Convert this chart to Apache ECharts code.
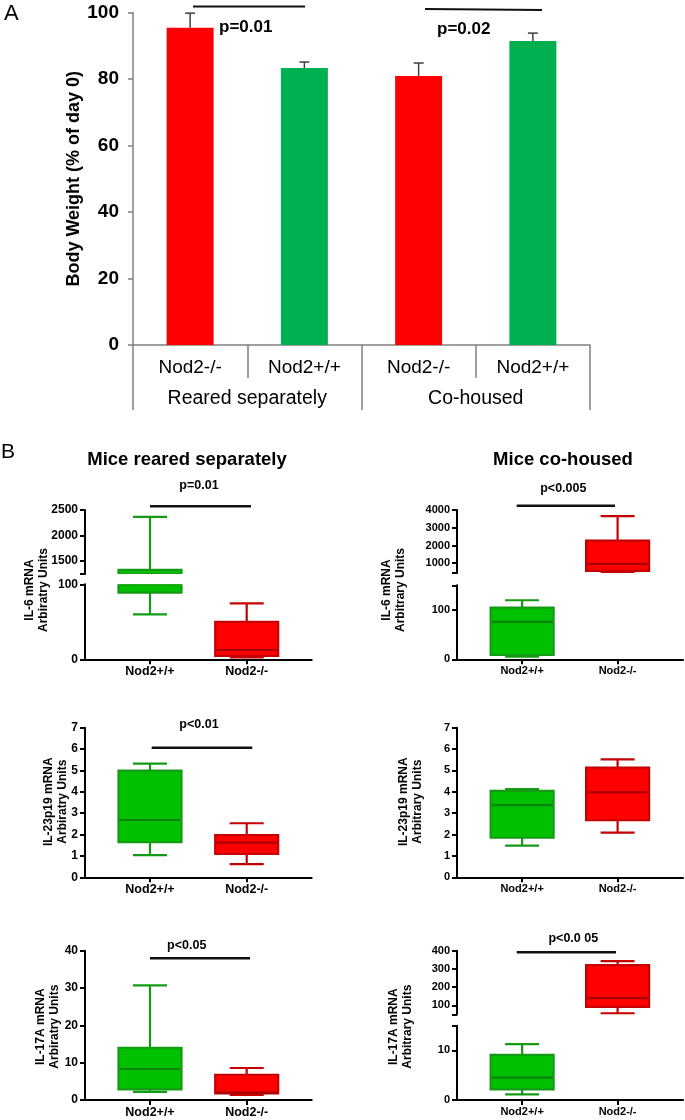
<!DOCTYPE html>
<html>
<head>
<meta charset="utf-8">
<script src="https://cdn.jsdelivr.net/npm/echarts@6/dist/echarts.min.js"></script>
<style>
html,body{margin:0;padding:0;background:#fff;}
#chart{width:685px;height:1120px;}
</style>
</head>
<body>
<div id="chart"></div>
<script>
// ---------------- Panel A data ----------------
const groupsA = ['Reared separately', 'Co-housed'];
const categoriesA = ['Nod2-/-', 'Nod2+/+', 'Nod2-/-', 'Nod2+/+'];
const bodyWeightMean = [95.4, 83.3, 80.9, 91.4];
const bodyWeightErrTop = [99.8, 85.1, 84.8, 93.8];
const barColorsA = ['#FF0000', '#00B050', '#FF0000', '#00B050'];
const pLabelsA = ['p=0.01', 'p=0.02'];

// ---------------- Panel B data ----------------
const genotypes = ['Nod2+/+', 'Nod2-/-'];
// each box: [min, Q1, median, Q3, max]
const il6SepWT = [60, 89, 500, 1320, 2366];
const il6SepKO = [2.7, 4.4, 12.4, 50, 74.7];
const il6CoWT = [5.3, 8.7, 76, 104.7, 119.7];
const il6CoKO = [470, 568, 960, 2270, 3660];
const il23SepWT = [1.04, 1.64, 2.68, 4.99, 5.32];
const il23SepKO = [0.62, 1.09, 1.62, 1.98, 2.53];
const il23CoWT = [1.48, 1.85, 3.38, 4.04, 4.13];
const il23CoKO = [2.09, 2.67, 3.98, 5.13, 5.52];
const il17SepWT = [2.2, 2.86, 8.3, 14.0, 30.7];
const il17SepKO = [1.34, 1.78, 2.0, 6.77, 8.57];
const il17CoWT = [1.15, 2.15, 4.5, 9.1, 11.3];
const il17CoKO = [56, 91, 139, 321, 343];

const il6SepUpperTicks = [1500, 2000, 2500];
const il6SepLowerTicks = [0, 100];
const il6CoUpperTicks = [1000, 2000, 3000, 4000];
const il6CoLowerTicks = [0, 100];
const il23Ticks = [0, 1, 2, 3, 4, 5, 6, 7];
const il17SepTicks = [0, 10, 20, 30, 40];
const il17CoUpperTicks = [100, 200, 300, 400];
const il17CoLowerTicks = [0, 10];

const pLabelsB = ['p=0.01', 'p<0.005', 'p<0.01', 'p<0.05', 'p<0.0 05'];

// ---------------- styling / layout ----------------
const FONT = "'Liberation Sans', Arial, Helvetica, sans-serif";
const GREEN_FILL = '#00C000', GREEN_STROKE = '#159a15', GREEN_MED = '#0b840b';
const RED_FILL = '#FF0000', RED_STROKE = '#c40000', RED_MED = '#a80000';

const COL_L = {left: 85, width: 226.7, xmin: 0.328, xmax: 2.672, tickFont: 12, xFont: 12.5};
const COL_R = {left: 457, width: 226, xmin: 0.318, xmax: 2.685, tickFont: 11, xFont: 11};

const plots = [
  {col: COL_L, data: [il6SepWT, il6SepKO], segs: [
    {top: 510, bottom: 574, min: 1240, max: 2500, labels: il6SepUpperTicks, ticks: [1240].concat(il6SepUpperTicks)},
    {top: 584.3, bottom: 659.3, min: 0, max: 100, labels: il6SepLowerTicks, ticks: il6SepLowerTicks}]},
  {col: COL_R, data: [il6CoWT, il6CoKO], segs: [
    {top: 510, bottom: 573, min: 450, max: 4000, labels: il6CoUpperTicks, ticks: [450].concat(il6CoUpperTicks)},
    {top: 585.3, bottom: 659.3, min: 0, max: 150, labels: il6CoLowerTicks, ticks: il6CoLowerTicks.concat([150])}]},
  {col: COL_L, data: [il23SepWT, il23SepKO], segs: [
    {top: 727.7, bottom: 877.3, min: 0, max: 7, labels: il23Ticks, ticks: il23Ticks}]},
  {col: COL_R, data: [il23CoWT, il23CoKO], segs: [
    {top: 727.7, bottom: 877.3, min: 0, max: 7, labels: il23Ticks, ticks: il23Ticks}]},
  {col: COL_L, data: [il17SepWT, il17SepKO], segs: [
    {top: 950.7, bottom: 1100, min: 0, max: 40, labels: il17SepTicks, ticks: il17SepTicks}]},
  {col: COL_R, data: [il17CoWT, il17CoKO], segs: [
    {top: 950.7, bottom: 1014.4, min: 50, max: 400, labels: il17CoUpperTicks, ticks: [50].concat(il17CoUpperTicks)},
    {top: 1025.7, bottom: 1100, min: 0, max: 15, labels: il17CoLowerTicks, ticks: il17CoLowerTicks.concat([15])}]}
];

function makeBoxItem(segMin, segMax) {
  return function (params, api) {
    const x = api.value(0);
    const v = [1, 2, 3, 4, 5].map(i => api.value(i));
    const cx = api.coord([x, segMin])[0];
    const top = api.coord([x, segMax])[1];
    const bot = api.coord([x, segMin])[1];
    const py = v.map(val => api.coord([x, val])[1]);
    const isWT = Math.round(x) === 1;
    const fill = isWT ? GREEN_FILL : RED_FILL;
    const stroke = isWT ? GREEN_STROKE : RED_STROKE;
    const med = isWT ? GREEN_MED : RED_MED;
    const bw = 63, cw = 34;
    const clampY = y => Math.min(bot, Math.max(top, y));
    const children = [];
    const addV = (ya, yb) => {
      const a = clampY(ya), b = clampY(yb);
      if (Math.abs(a - b) > 0.1) children.push({type: 'line', shape: {x1: cx, y1: a, x2: cx, y2: b}, style: {stroke: stroke, lineWidth: 2.2}});
    };
    const addH = (y, w, c) => {
      if (y >= top - 0.5 && y <= bot + 0.5) children.push({type: 'line', shape: {x1: cx - w / 2, y1: y, x2: cx + w / 2, y2: y}, style: {stroke: c, lineWidth: 2.2}});
    };
    addV(py[0], py[1]);
    addV(py[3], py[4]);
    const r1 = clampY(py[3]), r2 = clampY(py[1]);
    if (r2 - r1 > 0.1) children.push({type: 'rect', shape: {x: cx - bw / 2, y: r1, width: bw, height: r2 - r1}, style: {fill: fill, stroke: stroke, lineWidth: 2.2}});
    addH(py[2], bw - 2, med);
    addH(py[0], cw, stroke);
    addH(py[4], cw, stroke);
    return {type: 'group', children: children};
  };
}

function errItem(params, api) {
  const i = api.value(0);
  const p0 = api.coord([i, api.value(1)]);
  const p1 = api.coord([i, api.value(2)]);
  return {type: 'group', children: [
    {type: 'line', shape: {x1: p0[0], y1: p0[1], x2: p1[0], y2: p1[1]}, style: {stroke: '#404040', lineWidth: 1.5}},
    {type: 'line', shape: {x1: p1[0] - 5, y1: p1[1], x2: p1[0] + 5, y2: p1[1]}, style: {stroke: '#404040', lineWidth: 1.5}}
  ]};
}

const grids = [], xAxes = [], yAxes = [], series = [];

// Panel A
grids.push({left: 133, top: 12.5, width: 457, height: 332.5});
xAxes.push({
  type: 'category', gridIndex: 0, data: categoriesA, position: 'bottom',
  axisLine: {lineStyle: {color: '#808080', width: 1.5}},
  axisTick: {show: true, interval: 0, length: 33, lineStyle: {color: '#808080', width: 1.5}},
  axisLabel: {interval: 0, margin: 13, fontSize: 19, color: '#000', fontFamily: FONT}
});
xAxes.push({
  type: 'category', gridIndex: 0, data: groupsA, position: 'bottom',
  axisLine: {show: false},
  axisTick: {show: true, interval: 0, length: 65, lineStyle: {color: '#808080', width: 1.5}},
  axisLabel: {interval: 0, margin: 44, fontSize: 19.5, color: '#000', fontFamily: FONT}
});
yAxes.push({
  type: 'value', gridIndex: 0, min: 0, max: 100, interval: 20,
  name: 'Body Weight (% of day 0)', nameLocation: 'middle', nameGap: 50, nameMoveOverlap: false,
  nameTextStyle: {fontSize: 18, fontWeight: 'bold', color: '#000', fontFamily: FONT},
  axisLine: {show: true, lineStyle: {color: '#808080', width: 1.5}},
  axisTick: {show: true, length: 5, lineStyle: {color: '#808080', width: 1.5}},
  axisLabel: {margin: 14, fontSize: 19, fontWeight: 'bold', color: '#000', fontFamily: FONT},
  splitLine: {show: false}
});
series.push({
  type: 'bar', xAxisIndex: 0, yAxisIndex: 0, barWidth: 47,
  data: bodyWeightMean.map((v, i) => ({value: v, itemStyle: {color: barColorsA[i]}}))
});
series.push({
  type: 'custom', xAxisIndex: 0, yAxisIndex: 0, renderItem: errItem,
  encode: {x: 0, y: [1, 2]},
  data: bodyWeightMean.map((v, i) => [i, v, bodyWeightErrTop[i]]), z: 3
});

// Panel B
plots.forEach(p => {
  p.segs.forEach((s, si) => {
    const gi = grids.length;
    const xi = xAxes.length;
    const yi = yAxes.length;
    const isLast = si === p.segs.length - 1;
    grids.push({left: p.col.left, top: s.top, width: p.col.width, height: s.bottom - s.top});
    xAxes.push({
      type: 'value', gridIndex: gi, min: p.col.xmin, max: p.col.xmax,
      axisLine: {show: isLast, onZero: false, lineStyle: {color: '#000', width: 2}},
      axisTick: {show: isLast, customValues: [1, 2], length: 5, lineStyle: {color: '#000', width: 2}},
      axisLabel: {show: isLast, customValues: [1, 2], formatter: v => genotypes[Math.round(v) - 1], margin: 6,
        fontSize: p.col.xFont, fontWeight: 'bold', color: '#000', fontFamily: FONT},
      splitLine: {show: false}
    });
    yAxes.push({
      type: 'value', gridIndex: gi, min: s.min, max: s.max,
      axisLine: {show: true, lineStyle: {color: '#000', width: 2}},
      axisTick: {show: true, customValues: s.ticks, length: 5, lineStyle: {color: '#000', width: 2}},
      axisLabel: {customValues: s.labels, formatter: v => String(v), margin: 7, fontSize: p.col.tickFont,
        fontWeight: 'bold', color: '#000', fontFamily: FONT},
      splitLine: {show: false}
    });
    series.push({
      type: 'custom', xAxisIndex: xi, yAxisIndex: yi, renderItem: makeBoxItem(s.min, s.max), clip: true,
      encode: {x: 0, y: [1, 2, 3, 4, 5]},
      data: p.data.map((d, k) => [k + 1].concat(d))
    });
  });
});

// annotations
const txt = (text, x, y, size, bold, align, rot) => ({
  type: 'text', x: x, y: y, rotation: rot || 0,
  style: {text: text, fontSize: size, fontWeight: bold ? 'bold' : 'normal', fill: '#000', fontFamily: FONT,
    textAlign: align || 'center', textVerticalAlign: 'middle', lineHeight: 14}
});
const hline = (x1, y1, x2, y2, w) => ({type: 'line', shape: {x1: x1, y1: y1, x2: x2, y2: y2}, style: {stroke: '#111', lineWidth: w || 2.4}});

const graphics = [
  txt('A', 4, 14, 22, false, 'left'),
  hline(193, 6.5, 305, 6.5, 2), txt(pLabelsA[0], 219, 27, 17, true, 'left'),
  hline(425, 9, 542, 10, 2), txt(pLabelsA[1], 437, 29, 17, true, 'left'),
  txt('B', 1, 452, 21, false, 'left'),
  txt('Mice reared separately', 187, 460, 18.5, true),
  txt('Mice co-housed', 563, 460, 18.5, true),
  hline(150, 506.3, 251, 506.3), txt(pLabelsB[0], 199, 485.7, 12.5, true),
  hline(516.7, 505.7, 615, 505.7), txt(pLabelsB[1], 563.3, 488.3, 12.5, true),
  hline(151.7, 747.7, 252.3, 747.7), txt(pLabelsB[2], 199, 724.3, 12.5, true),
  hline(150, 958.3, 250, 958.3), txt(pLabelsB[3], 186.7, 945.7, 12.5, true),
  hline(516.7, 952.3, 616, 952.3), txt(pLabelsB[4], 573.3, 938.3, 12.5, true),
  txt('IL-6 mRNA\nArbiratry Units', 37, 590, 12, true, 'center', Math.PI / 2),
  txt('IL-6 mRNA\nArbitrary Units', 394, 590, 12, true, 'center', Math.PI / 2),
  txt('IL-23p19 mRNA\nArbiratry Units', 55.5, 801.7, 12, true, 'center', Math.PI / 2),
  txt('IL-23p19 mRNA\nArbitrary Units', 411, 801.7, 12, true, 'center', Math.PI / 2),
  txt('IL-17A mRNA\nArbiratry Units', 47.5, 1026.7, 12, true, 'center', Math.PI / 2),
  txt('IL-17A mRNA\nArbitrary Units', 400.5, 1026.7, 12, true, 'center', Math.PI / 2)
];

const chart = echarts.init(document.getElementById('chart'), null, {renderer: 'canvas'});
chart.setOption({
  animation: false,
  backgroundColor: '#fff',
  grid: grids,
  xAxis: xAxes,
  yAxis: yAxes,
  series: series,
  graphic: graphics
});
</script>
</body>
</html>
